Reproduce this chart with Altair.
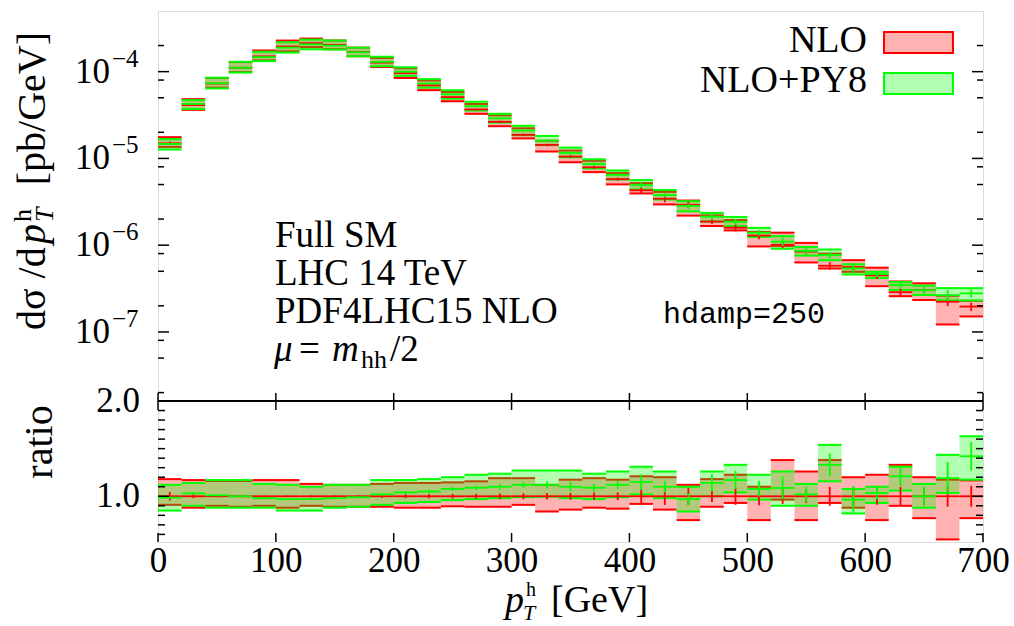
import altair as alt
import pandas as pd

FONT = "Liberation Serif, Times New Roman, serif"
MONO = "Liberation Mono, monospace"
RED = "#ff0000"
GREEN = "#00ff00"

W, H_TOP, H_RAT = 825, 390, 141
H = H_TOP + H_RAT

# p_T^h bins (GeV), lower edges, 20 GeV wide
bin_lo = [0, 20, 40, 60, 80, 100, 120, 140, 160, 180, 200, 220, 240, 260, 280,
          300, 320, 340, 360, 380, 400, 420, 440, 460, 480, 500, 520, 540, 560,
          580, 600, 620, 640, 660, 680]

# NLO central value, dsigma/dpT [pb/GeV]
nlo_central = [1.49e-5, 4.12e-5, 7.28e-5, 1.11e-4, 1.50e-4, 1.95e-4, 2.13e-4,
               2.04e-4, 1.69e-4, 1.27e-4, 9.6e-5, 6.95e-5, 5.09e-5, 3.67e-5,
               2.64e-5, 1.87e-5, 1.43e-5, 1.05e-5, 7.9e-6, 5.77e-6, 4.29e-6,
               3.43e-6, 2.92e-6, 1.87e-6, 1.59e-6, 1.29e-6, 1.01e-6, 8.43e-7,
               5.79e-7, 5.6e-7, 4.49e-7, 2.87e-7, 3.03e-7, 2.23e-7, 1.96e-7]

# NLO scale band, relative to NLO central
nlo_lo_ratio = [0.91, 0.88, 0.90, 0.89, 0.90, 0.88, 0.90, 0.89, 0.89, 0.89, 0.88,
                0.88, 0.895, 0.89, 0.89, 0.91, 0.84, 0.86, 0.88, 0.87, 0.92, 0.86,
                0.75, 0.89, 0.93, 0.75, 0.965, 0.75, 0.93, 0.88, 0.75, 0.90, 0.77,
                0.547, 0.77]
nlo_hi_ratio = [1.18, 1.17, 1.16, 1.16, 1.17, 1.17, 1.13, 1.12, 1.12, 1.13, 1.14,
                1.14, 1.146, 1.157, 1.19, 1.19, 1.12, 1.174, 1.19, 1.174, 1.21,
                1.20, 1.12, 1.18, 1.226, 1.10, 1.38, 1.26, 1.38, 1.20, 1.226, 1.33,
                1.20, 1.174, 1.167]

# NLO+PY8 central value and scale band, relative to NLO central
py8_ratio = [0.985, 1.03, 1.01, 1.00, 0.98, 0.97, 0.97, 0.98, 0.99, 1.02, 1.04,
             1.05, 1.077, 1.09, 1.10, 1.12, 1.12, 1.10, 1.09, 1.12, 1.15, 1.10,
             0.97, 1.14, 1.17, 1.077, 1.087, 1.02, 1.33, 0.965, 1.035, 1.21, 1.00,
             1.19, 1.42]
py8_lo_ratio = [0.85, 0.90, 0.88, 0.88, 0.88, 0.85, 0.85, 0.88, 0.89, 0.91, 0.93,
                0.94, 0.96, 0.97, 0.98, 0.99, 0.995, 0.98, 0.97, 0.99, 1.02, 0.98,
                0.84, 1.00, 1.04, 0.965, 0.90, 0.90, 1.157, 0.82, 0.93, 1.06, 0.88,
                1.035, 1.174]
py8_hi_ratio = [1.12, 1.14, 1.17, 1.17, 1.13, 1.12, 1.10, 1.12, 1.12, 1.17, 1.17,
                1.18, 1.20, 1.226, 1.237, 1.27, 1.27, 1.27, 1.237, 1.26, 1.31, 1.26,
                1.10, 1.26, 1.33, 1.226, 1.26, 1.13, 1.54, 1.077, 1.10, 1.31, 1.13,
                1.435, 1.63]

# statistical (MC) errors, half-width relative to NLO central
nlo_stat = [0.045, 0.02, 0.01, 0.01, 0.01, 0.01, 0.01, 0.01, 0.01, 0.015, 0.02,
            0.02, 0.025, 0.025, 0.03, 0.03, 0.035, 0.035, 0.04, 0.04, 0.07, 0.09,
            0.09, 0.06, 0.09, 0.095, 0.08, 0.07, 0.10, 0.10, 0.09, 0.10, 0.09,
            0.11, 0.11]
py8_stat = [0.01, 0.01, 0.01, 0.01, 0.01, 0.01, 0.01, 0.01, 0.01, 0.015, 0.015,
            0.02, 0.02, 0.025, 0.03, 0.03, 0.035, 0.05, 0.04, 0.04, 0.08, 0.06,
            0.06, 0.09, 0.095, 0.08, 0.12, 0.08, 0.12, 0.14, 0.07, 0.10, 0.10,
            0.17, 0.15]

x_tick_values = [0, 100, 200, 300, 400, 500, 600, 700]
y_decades = [1e-4, 1e-5, 1e-6, 1e-7]
y_decade_exp = ["\u22124", "\u22125", "\u22126", "\u22127"]
y_minor = [2e-4, 8e-5, 5e-5, 2e-5, 8e-6, 5e-6, 2e-6, 8e-7, 5e-7, 2e-7,
           8e-8, 5e-8, 2e-8]
ratio_minor = [0.6, 0.7, 0.8, 0.9, 1.1, 1.2, 1.3, 1.4, 1.5, 1.6, 1.7, 1.8, 1.9]
ratio_labels = [1.0, 2.0]

df = pd.DataFrame({
    "lo": bin_lo, "nlo": nlo_central,
    "rlo": nlo_lo_ratio, "rhi": nlo_hi_ratio,
    "gc": py8_ratio, "glo": py8_lo_ratio, "ghi": py8_hi_ratio,
    "sr": nlo_stat, "sg": py8_stat,
})
df["hi"] = df["lo"] + 20
df["mid"] = df["lo"] + 10
df["one"] = 1.0
# absolute values for the upper panel
df["a_rlo"] = df.nlo * df.rlo
df["a_rhi"] = df.nlo * df.rhi
df["a_gc"] = df.nlo * df.gc
df["a_glo"] = df.nlo * df.glo
df["a_ghi"] = df.nlo * df.ghi
df["a_srlo"] = df.nlo * (1 - df.sr)
df["a_srhi"] = df.nlo * (1 + df.sr)
df["a_sglo"] = df.nlo * (df.gc - df.sg)
df["a_sghi"] = df.nlo * (df.gc + df.sg)
# ratio-panel error bars
df["srlo"] = 1 - df.sr
df["srhi"] = 1 + df.sr
df["sglo"] = df.gc - df.sg
df["sghi"] = df.gc + df.sg

x_scale = alt.Scale(domain=[0, 700], nice=False, zero=False)
x_axis = alt.Axis(values=x_tick_values, format="d", ticks=False, tickSize=0,
                  domain=False, grid=False, labelFont=FONT, labelFontSize=35,
                  labelColor="black", labelPadding=1, labelFlush=False,
                  labelOverlap=False, labelBound=False, title=None)
yt_scale = alt.Scale(type="log", domain=[1.6e-8, 5e-4], range=[H_TOP, 0], nice=False)
yr_scale = alt.Scale(domain=[0.52, 2.0], range=[H, H_TOP], nice=False, zero=False)


def X(f):
    return alt.X(f, type="quantitative", scale=x_scale, axis=x_axis)


def YT(f):
    return alt.Y(f, type="quantitative", scale=yt_scale, axis=None)


def YR(f):
    return alt.Y(f, type="quantitative", scale=yr_scale, axis=None)


def band(lo, hi, color, Y):
    base = alt.Chart(df)
    fill = base.mark_rect(color=color, opacity=0.3, strokeWidth=0).encode(
        x=X("lo"), x2="hi", y=Y(lo), y2=alt.Y2(hi))
    top = base.mark_rule(color=color, strokeWidth=2).encode(x=X("lo"), x2="hi", y=Y(hi))
    bot = base.mark_rule(color=color, strokeWidth=2).encode(x=X("lo"), x2="hi", y=Y(lo))
    return [fill, top, bot]


def central(c, elo, ehi, color, Y):
    base = alt.Chart(df)
    line = base.mark_rule(color=color, strokeWidth=1.8).encode(x=X("lo"), x2="hi", y=Y(c))
    err = base.mark_rule(color=color, strokeWidth=1.8).encode(x=X("mid"), y=Y(elo), y2=alt.Y2(ehi))
    return [line, err]


def yticks(values, Y, length):
    d = pd.DataFrame({"v": values})
    left = alt.Chart(d).mark_rule(color="black", strokeWidth=1.5).encode(
        y=Y("v"), x=alt.value(0), x2=alt.value(length))
    right = alt.Chart(d).mark_rule(color="black", strokeWidth=1.5).encode(
        y=Y("v"), x=alt.value(W - length), x2=alt.value(W))
    return [left, right]


one_row = pd.DataFrame({"a": [0]})


def txt(text, x, y, size, align="left", style="normal", angle=0, font=FONT,
        baseline="alphabetic", color="black"):
    return alt.Chart(one_row).mark_text(
        text=text, font=font, fontSize=size, align=align, fontStyle=style,
        angle=angle, baseline=baseline, color=color,
    ).encode(x=alt.value(x), y=alt.value(y))


# ---- upper panel: absolute cross section ----
dec_df = pd.DataFrame({"v": y_decades, "e": y_decade_exp, "b": ["10"] * 4})
top_layers = (
    band("a_rlo", "a_rhi", RED, YT)
    + band("a_glo", "a_ghi", GREEN, YT)
    + central("nlo", "a_srlo", "a_srhi", RED, YT)
    + central("a_gc", "a_sglo", "a_sghi", GREEN, YT)
    + yticks(y_decades, YT, 11)
    + yticks(y_minor, YT, 6)
    + [
        alt.Chart(dec_df).mark_text(font=FONT, fontSize=35, align="right",
                                    baseline="alphabetic", dy=11).encode(
            x=alt.value(-48), y=YT("v"), text="b"),
        alt.Chart(dec_df).mark_text(font=FONT, fontSize=25, align="left",
                                    baseline="alphabetic", dy=-5).encode(
            x=alt.value(-46), y=YT("v"), text="e"),
    ]
)
top = alt.layer(*top_layers)

# ---- lower panel: ratio to NLO ----
rl_df = pd.DataFrame({"v": ratio_labels})
ratio_layers = (
    band("rlo", "rhi", RED, YR)
    + band("glo", "ghi", GREEN, YR)
    + central("one", "srlo", "srhi", RED, YR)
    + central("gc", "sglo", "sghi", GREEN, YR)
    + yticks(ratio_minor, YR, 7)
    + yticks([1.0], YR, 11)
    + [
        alt.Chart(rl_df).mark_text(font=FONT, fontSize=35, align="right",
                                   baseline="middle").encode(
            x=alt.value(-18), y=YR("v"), text=alt.Text("v:Q", format=".1f")),
    ]
)
ratio = alt.layer(*ratio_layers)

# ---- x ticks, frame divider, labels ----
xt = pd.DataFrame({"v": x_tick_values})
misc = [
    alt.Chart(xt).mark_rule(color="black", strokeWidth=1.5).encode(
        x=X("v"), y=alt.value(H_TOP - 8), y2=alt.value(H_TOP)),
    alt.Chart(xt).mark_rule(color="black", strokeWidth=1.5).encode(
        x=X("v"), y=alt.value(H_TOP), y2=alt.value(H_TOP + 9)),
    alt.Chart(xt).mark_rule(color="black", strokeWidth=1.5).encode(
        x=X("v"), y=alt.value(H - 9), y2=alt.value(H)),
    alt.Chart(one_row).mark_rule(color="black", strokeWidth=2).encode(
        x=alt.value(0), x2=alt.value(W), y=alt.value(H_TOP)),
    # legend
    alt.Chart(one_row).mark_rect(fill=RED, fillOpacity=0.3, stroke=RED, strokeWidth=2).encode(
        x=alt.value(726), x2=alt.value(795), y=alt.value(21), y2=alt.value(42)),
    alt.Chart(one_row).mark_rect(fill=GREEN, fillOpacity=0.3, stroke=GREEN, strokeWidth=2).encode(
        x=alt.value(726), x2=alt.value(795), y=alt.value(62), y2=alt.value(83)),
    txt("NLO", 709, 41, 38, align="right"),
    txt("NLO+PY8", 709, 81, 38, align="right"),
    # process / setup annotations
    txt("Full SM", 117, 236, 37),
    txt("LHC 14 TeV", 117, 274, 37),
    txt("PDF4LHC15 NLO", 117, 312, 37),
    txt("\u03bc", 116, 350, 37, style="italic"),
    txt("=", 141, 350, 37),
    txt("m", 174, 350, 37, style="italic"),
    txt("hh", 203, 357, 26),
    txt("/2", 232, 350, 37),
    txt("hdamp=250", 505, 312, 30, font=MONO),
    # y titles (rotated, reading upwards)
    txt("d\u03c3 /d", -113, 319, 40, angle=270),
    txt("p", -113, 233, 40, angle=270, style="italic"),
    txt("T", -105, 211, 26, angle=270, style="italic"),
    txt("h", -127, 211, 26, angle=270),
    txt("[pb/GeV]", -113, 21, 40, angle=270, align="right"),
    txt("ratio", -106, 431, 40, angle=270, align="center"),
    # x title
    txt("p", 347, 601, 38, style="italic"),
    txt("h", 368, 585, 20),
    txt("T", 365, 609, 22, style="italic"),
    txt("[GeV]", 393, 601, 38),
]

chart = alt.layer(top, ratio, *misc).resolve_scale(y="independent").properties(
    width=W, height=H,
    autosize=alt.AutoSizeParams(type="none"),
    padding={"left": 158, "top": 11, "right": 31, "bottom": 84},
).configure_view(stroke="black", strokeWidth=2).configure(font=FONT)

chart.save("out.html", embed_options={"renderer": "svg", "actions": False})
